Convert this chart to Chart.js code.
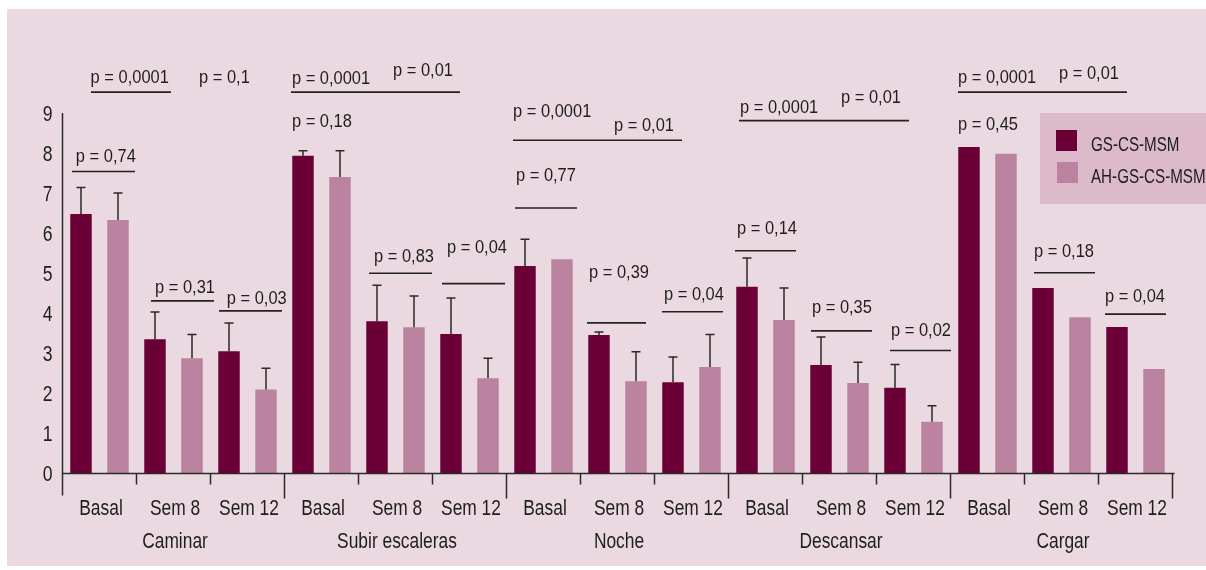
<!DOCTYPE html>
<html>
<head>
<meta charset="utf-8">
<script src="https://cdn.jsdelivr.net/npm/chart.js@4"></script>
<style>
  body { margin: 0; background: #fff; }
  #wrap { width: 1206px; height: 570px; }
</style>
</head>
<body>
<div id="wrap"><canvas id="chart"></canvas></div>
<script>
const activities = ["Caminar", "Subir escaleras", "Noche", "Descansar", "Cargar"];
const timepoints = ["Basal", "Sem 8", "Sem 12"];
const seriesNames = ["GS-CS-MSM", "AH-GS-CS-MSM"];

// mean values, one per activity x timepoint
const gsValues = [6.48, 3.35, 3.05, 7.93, 3.8, 3.48, 5.18, 3.46, 2.28, 4.66, 2.71, 2.14, 8.15, 4.63, 3.66];
const ahValues = [6.33, 2.88, 2.1, 7.4, 3.65, 2.38, 5.35, 2.3, 2.66, 3.83, 2.26, 1.29, 7.98, 3.9, 2.61];
// upper error (null = no bar drawn)
const gsErrors = [0.66, 0.68, 0.71, 0.13, 0.9, 0.9, 0.67, 0.07, 0.63, 0.72, 0.7, 0.58, null, null, null];
const ahErrors = [0.67, 0.59, 0.53, 0.66, 0.78, 0.5, null, 0.74, 0.81, 0.8, 0.52, 0.4, null, null, null];
const yTicks = [0, 1, 2, 3, 4, 5, 6, 7, 8, 9];

// p-value labels: text, x (category units), y (value units at baseline)
const pTexts = [
  ["p = 0,0001", -0.12, 9.74], ["p = 0,1", 1.345, 9.74], ["p = 0,74", -0.32, 7.78],
  ["p = 0,31", 0.75, 4.5], ["p = 0,03", 1.72, 4.23],
  ["p = 0,0001", 2.6, 9.72], ["p = 0,01", 3.966, 9.93], ["p = 0,18", 2.6, 8.64],
  ["p = 0,83", 3.71, 5.29], ["p = 0,04", 4.696, 5.51],
  ["p = 0,0001", 5.588, 8.91], ["p = 0,01", 6.953, 8.55], ["p = 0,77", 5.628, 7.31],
  ["p = 0,39", 6.615, 4.87], ["p = 0,04", 7.628, 4.33],
  ["p = 0,0001", 8.655, 9.01], ["p = 0,01", 10.02, 9.24], ["p = 0,14", 8.615, 5.98],
  ["p = 0,35", 9.628, 4.0], ["p = 0,02", 10.696, 3.43],
  ["p = 0,0001", 11.601, 9.74], ["p = 0,01", 12.966, 9.84], ["p = 0,45", 11.601, 8.57],
  ["p = 0,18", 12.628, 5.41], ["p = 0,04", 13.588, 4.29]
];
// comparison lines: x1, x2, y
const pLines = [
  [-0.115, 0.966, 9.52], [-0.372, 0.48, 7.54], [0.696, 1.547, 4.31], [1.615, 2.466, 4.06],
  [2.588, 4.872, 9.52], [3.642, 4.493, 5.0], [4.628, 5.48, 4.74],
  [5.588, 7.872, 8.32], [5.615, 6.453, 6.63], [6.588, 7.385, 3.76], [7.601, 8.426, 4.04],
  [8.642, 10.939, 8.81], [8.588, 9.412, 5.56], [9.615, 10.439, 3.56], [10.682, 11.507, 3.07],
  [11.601, 13.885, 9.52], [12.628, 13.453, 5.01], [13.588, 14.412, 3.98]
];

const FONT = '"Liberation Sans", Arial, sans-serif';
const DARK = "#6a0036";
const LIGHT = "#bb83a0";
const INK = "#1e1e1e";

// labels: middle timepoint carries the activity name on a second line
const labels = [];
activities.forEach((a) => {
  timepoints.forEach((t, j) => {
    labels.push(j === 1 ? [t, a] : t);
  });
});

// the original uses a condensed face, so squeeze the text horizontally
function drawText(ctx, text, x, y, size, sx, align) {
  ctx.save();
  ctx.font = size + "px " + FONT;
  ctx.textAlign = align;
  ctx.textBaseline = "alphabetic";
  ctx.translate(x, y);
  ctx.scale(sx, 1);
  ctx.fillText(text, 0, 0);
  ctx.restore();
}

const decorPlugin = {
  id: "decor",
  beforeDraw(chart) {
    const ctx = chart.ctx;
    ctx.save();
    ctx.fillStyle = "#ead9e1";
    ctx.fillRect(7, 9, 1199, 557);
    ctx.restore();
  },
  afterDraw(chart) {
    const ctx = chart.ctx;
    const x = chart.scales.x;
    const y = chart.scales.y;
    const y0 = y.getPixelForValue(0);
    ctx.save();
    ctx.strokeStyle = "#2a2a2a";
    ctx.lineWidth = 1.5;

    // axes
    ctx.beginPath();
    ctx.moveTo(x.left, y.getPixelForValue(9));
    ctx.lineTo(x.left, y0 + 22);
    ctx.moveTo(x.left, y0);
    ctx.lineTo(x.right + 2, y0);
    for (let i = 0; i < labels.length; i++) {
      const px = x.getPixelForValue(i + 0.5);
      const long = (i % 3) === 2;
      ctx.moveTo(px, y0);
      ctx.lineTo(px, y0 + (long ? 25 : 11));
    }
    ctx.stroke();

    // error bars
    const errs = [gsErrors, ahErrors];
    chart.data.datasets.forEach((ds, d) => {
      const meta = chart.getDatasetMeta(d);
      meta.data.forEach((bar, i) => {
        const e = errs[d][i];
        if (e == null) return;
        const top = y.getPixelForValue(ds.data[i] + e);
        ctx.beginPath();
        ctx.moveTo(bar.x, bar.y);
        ctx.lineTo(bar.x, top);
        ctx.moveTo(bar.x - 4.5, top);
        ctx.lineTo(bar.x + 4.5, top);
        ctx.stroke();
      });
    });

    // p-value lines and text
    ctx.strokeStyle = "#222";
    ctx.lineWidth = 1.6;
    pLines.forEach(([a, b, v]) => {
      const py = y.getPixelForValue(v);
      ctx.beginPath();
      ctx.moveTo(x.getPixelForValue(a), py);
      ctx.lineTo(x.getPixelForValue(b), py);
      ctx.stroke();
    });
    ctx.fillStyle = INK;
    pTexts.forEach(([t, a, v]) => {
      drawText(ctx, t, x.getPixelForValue(a), y.getPixelForValue(v), 18.5, 0.89, "left");
    });

    // tick labels
    yTicks.forEach((v) => {
      drawText(ctx, String(v), x.left - 10, y.getPixelForValue(v) + 7.5, 22, 0.8, "right");
    });
    labels.forEach((lab, i) => {
      const px = x.getPixelForValue(i) + 1.5;
      const lines = Array.isArray(lab) ? lab : [lab];
      lines.forEach((t, k) => {
        drawText(ctx, t, px, y0 + 41.5 + k * 32.5, 22, 0.79, "center");
      });
    });

    // legend box
    ctx.fillStyle = "#dcbaca";
    ctx.fillRect(1040, 113, 166, 91);
    chart.data.datasets.forEach((ds, d) => {
      const ty = 140 + d * 32;
      ctx.fillStyle = ds.backgroundColor;
      ctx.fillRect(1056 + d, ty - 10, 21, 21);
      ctx.fillStyle = INK;
      drawText(ctx, ds.label, 1091, ty + 10.5, 20.5, 0.74, "left");
    });
    ctx.restore();
  }
};

new Chart(document.getElementById("chart"), {
  type: "bar",
  data: {
    labels: labels,
    datasets: [
      { label: seriesNames[0], data: gsValues, backgroundColor: DARK },
      { label: seriesNames[1], data: ahValues, backgroundColor: LIGHT }
    ]
  },
  options: {
    responsive: true,
    maintainAspectRatio: false,
    animation: false,
    layout: { padding: { top: 113, right: 33.5, left: 0, bottom: 0 } },
    datasets: { bar: { categoryPercentage: 1.0, barPercentage: 0.58 } },
    plugins: { legend: { display: false }, tooltip: { enabled: false } },
    scales: {
      x: {
        offset: true,
        grid: { display: false, drawTicks: false },
        border: { display: false },
        ticks: { display: false },
        afterFit: (s) => { s.height = 96.5; }
      },
      y: {
        min: 0,
        max: 9,
        grid: { display: false, drawTicks: false },
        border: { display: false },
        afterBuildTicks: (s) => { s.ticks = yTicks.map((v) => ({ value: v })); },
        ticks: { display: false },
        afterFit: (s) => { s.width = 62.5; }
      }
    }
  },
  plugins: [decorPlugin]
});
</script>
</body>
</html>
